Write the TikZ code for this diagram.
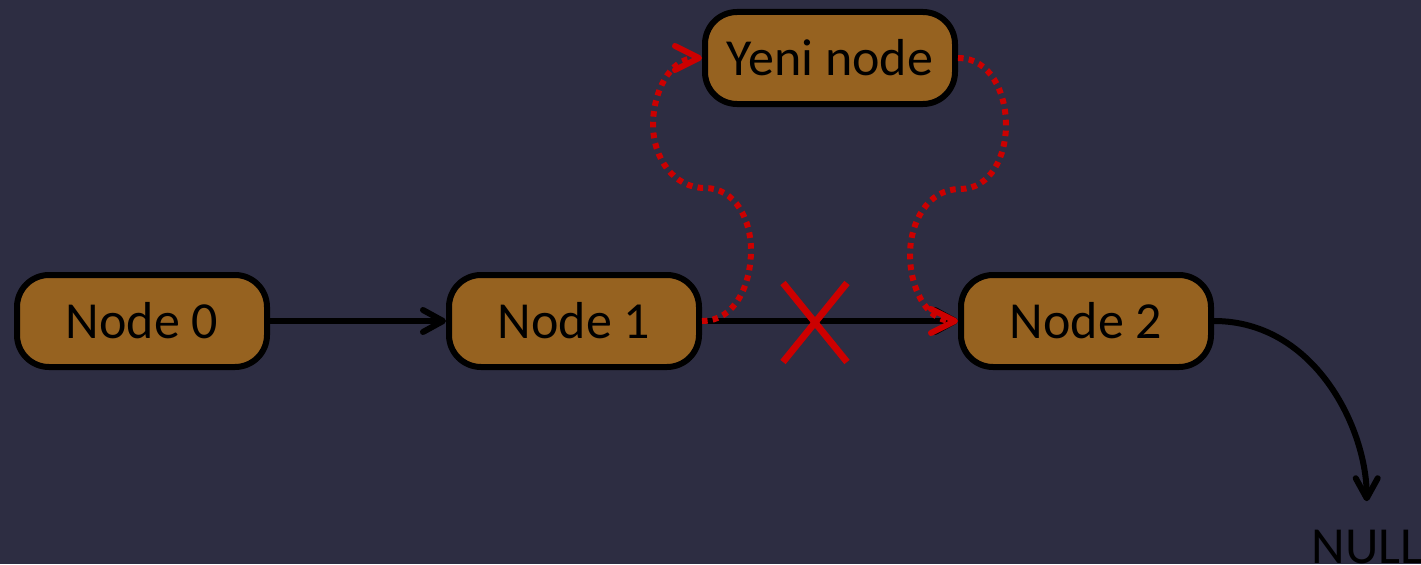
\documentclass[tikz,border=0pt]{standalone}
\usepackage{fontspec}
\setmainfont{Carlito}
\usetikzlibrary{arrows.meta}
\definecolor{bg}{RGB}{45,45,66}
\definecolor{nodefill}{RGB}{150,98,32}
\definecolor{redc}{RGB}{204,0,0}
\begin{document}
\begin{tikzpicture}[x=0.5pt,y=0.5pt,
  box/.style={draw=black, line width=3pt, fill=nodefill, rounded corners=16pt,
    minimum width=125pt, minimum height=46pt, inner sep=0pt,
    font=\fontsize{26pt}{31pt}\selectfont},
  lbl/.style={inner sep=0pt, font=\fontsize{26pt}{31pt}\selectfont},
  link/.style={draw=black, line width=3pt, -{Straight Barb[length=10pt,width=11pt,round]}},
  newlink/.style={draw=redc, line width=3pt, dash pattern=on 2.8pt off 2.6pt,
    -{Straight Barb[length=12pt,width=12pt,round]}},
  cross/.style={draw=redc, line width=3.4pt}
]
\fill[bg] (0,0) rectangle (1421,564);
\useasboundingbox (0,0) rectangle (1421,564);

\node[box] (n0) at (142,243) {Node 0};
\node[box] (n1) at (574,243) {Node 1};
\node[box] (n2) at (1086,243) {Node 2};
\node[box] (yn) at (830,506) {Yeni node};
\node[lbl, anchor=base west] (null) at (1311,1) {NULL};

\draw[link] (n0.east) -- (n1.west);
\draw[link] (n1.east) -- (n2.west);
\draw[link, shorten >=14pt] (n2.east) to[out=0,in=90] (null.north);

\draw[cross] (783,281) -- (847,202) (847,281) -- (783,202);

\coordinate (a1) at (751,314);
\coordinate (a2) at (705,376);
\coordinate (a3) at (653,439);
\coordinate (b1) at (1006,439);
\coordinate (b2) at (960,375);
\coordinate (b3) at (910,309);

\draw[newlink] (n1.east) to[out=0,in=-90] (a1) to[out=90,in=0] (a2)
  to[out=180,in=-90] (a3) to[out=90,in=180] (yn.west);
\draw[newlink] (yn.east) to[out=0,in=90] (b1) to[out=-90,in=0] (b2)
  to[out=180,in=90] (b3) to[out=-90,in=180] (n2.west);
\end{tikzpicture}
\end{document}
